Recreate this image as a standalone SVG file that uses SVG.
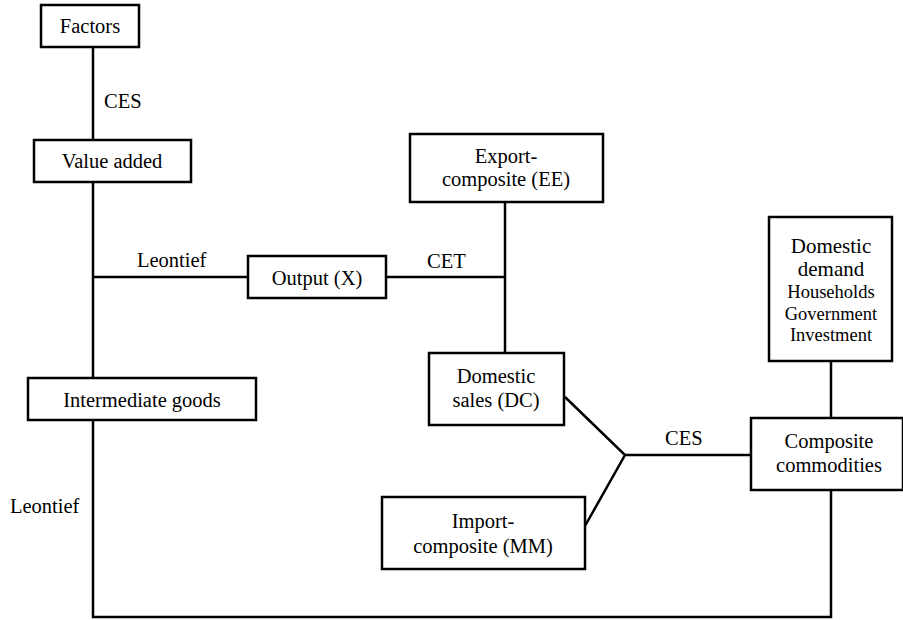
<svg xmlns="http://www.w3.org/2000/svg" width="903" height="620" viewBox="0 0 903 620">
<style>
rect.box{fill:#fff;stroke:#000;stroke-width:2.5}
.c line,.c polyline{stroke:#000;stroke-width:2.5;fill:none}
text{font-family:'Liberation Serif','Times New Roman',Tinos,'DejaVu Serif',serif;font-size:20.5px;fill:#000}
.m{text-anchor:middle}
.s{font-size:18.5px}
.b{font-size:21px}
</style>
<rect width="903" height="620" fill="#fff"/>
<g class="c" id="connectors">
<line x1="93" y1="47" x2="93" y2="140"/>
<line x1="93" y1="182" x2="93" y2="378"/>
<line x1="93" y1="277" x2="248" y2="277"/>
<line x1="386" y1="277" x2="505" y2="277"/>
<line x1="505" y1="202" x2="505" y2="353"/>
<polyline points="565,397 625,455 585,526"/>
<line x1="625" y1="455" x2="751" y2="455"/>
<line x1="831" y1="361" x2="831" y2="418"/>
<polyline points="93,420 93,617 831,617 831,490"/>
<text x="104" y="108">CES</text>
<text x="137" y="267">Leontief</text>
<text x="427" y="268">CET</text>
<text x="665" y="445">CES</text>
<text x="10" y="513">Leontief</text>
</g>
<g id="factors"><rect class="box" x="41" y="5" width="98" height="42"/><text class="m" x="90" y="33">Factors</text></g>
<g id="value-added"><rect class="box" x="34" y="140" width="157" height="42"/><text class="m" x="112" y="168">Value added</text></g>
<g id="output"><rect class="box" x="248" y="256" width="138" height="42"/><text class="m" x="317" y="285">Output (X)</text></g>
<g id="export"><rect class="box" x="410" y="134" width="193" height="68"/><text class="m" x="506" y="163">Export-</text><text class="m" x="506" y="186">composite (EE)</text></g>
<g id="domestic-sales"><rect class="box" x="429" y="353" width="135" height="72"/><text class="m" x="496" y="383">Domestic</text><text class="m" x="496" y="407">sales (DC)</text></g>
<g id="intermediate"><rect class="box" x="28" y="378" width="228" height="42"/><text class="m" x="142" y="407">Intermediate goods</text></g>
<g id="domestic-demand"><rect class="box" x="769" y="217" width="123" height="144"/><text class="m b" x="831" y="253">Domestic</text><text class="m b" x="831" y="276">demand</text><text class="m s" x="831" y="298">Households</text><text class="m s" x="831" y="320">Government</text><text class="m s" x="831" y="341">Investment</text></g>
<g id="composite"><rect class="box" x="751" y="418" width="152" height="72"/><text class="m" x="829" y="448">Composite</text><text class="m" x="829" y="472">commodities</text></g>
<g id="import"><rect class="box" x="382" y="497" width="203" height="72"/><text class="m" x="483" y="528">Import-</text><text class="m" x="483" y="553">composite (MM)</text></g>
</svg>
